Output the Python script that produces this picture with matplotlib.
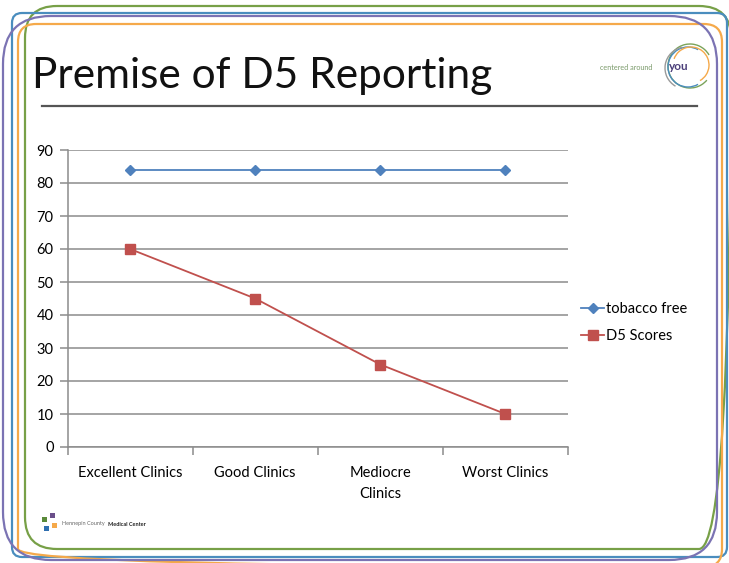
import matplotlib
matplotlib.use("Agg")
import matplotlib.pyplot as plt
from matplotlib.patches import FancyBboxPatch, Arc, Rectangle

categories = ["Excellent Clinics", "Good Clinics", "Mediocre\nClinics", "Worst Clinics"]
tobacco_free = [84, 84, 84, 84]
d5_scores = [60, 45, 25, 10]
y_ticks = [0, 10, 20, 30, 40, 50, 60, 70, 80, 90]

W, H = 729, 563
fig = plt.figure(figsize=(W / 100, H / 100), dpi=100)
fig.patch.set_facecolor("white")

# Background/slide decoration layer in pixel coordinates
bg = fig.add_axes([0, 0, 1, 1], zorder=0)
bg.set_xlim(0, W)
bg.set_ylim(H, 0)
bg.axis("off")

borders = [
    (25, 6, 731, 549, 32, "#77a047"),
    (12, 13, 727, 557, 10, "#4a8dbe"),
    (18, 24, 722, 567, 18, "#f5a94a"),
    (3, 16, 717, 560, 48, "#7b73b3"),
]
for x0, y0, x1, y1, r, c in borders:
    bg.add_patch(FancyBboxPatch((x0, y0), x1 - x0, y1 - y0,
                                boxstyle=f"round,pad=0,rounding_size={r}",
                                fill=False, edgecolor=c, linewidth=1.6))

fam = ["Lato", "DejaVu Sans"]
bg.text(32, 88, "Premise of D5 Reporting", fontsize=30.5, family=fam,
        color="#111111", va="baseline", ha="left")
bg.plot([42, 697], [106, 106], color="#555555", linewidth=1.6)

# "centered around you" logo
for (cx, cy, rr, c, t1, t2) in [
    (690, 66, 22, "#7aa35a", 40, 330),
    (688, 67, 20, "#4a8dbe", 60, 300),
    (691, 65, 18, "#f5a94a", 200, 60),
    (686, 68, 21, "#9a9a9a", 120, 260),
]:
    bg.add_patch(Arc((cx, cy), 2 * rr, 2 * rr, theta1=t1, theta2=t2,
                     edgecolor=c, linewidth=1.0))
bg.text(626, 67, "centered around", fontsize=5.2, family=fam, color="#7a9a6a",
        ha="center", va="center")
bg.text(679, 66, "you", fontsize=8.5, family=fam, weight="bold", color="#4b3f7a",
        ha="center", va="center")

# Hennepin County Medical Center logo
for (x, y, c) in [(42, 517, "#5a8a3a"), (50, 513, "#6a4f8a"), (44, 526, "#2f6fb0"), (52, 523, "#f5a94a")]:
    bg.add_patch(Rectangle((x, y), 5, 5, facecolor=c, edgecolor="none"))
bg.text(62, 524, "Hennepin County", fontsize=4.0, family=fam, color="#666666",
        ha="left", va="center")
bg.text(108, 524, "Medical Center", fontsize=4.0, family=fam, weight="bold", color="#222222",
        ha="left", va="center")

# Chart axes
ax = fig.add_axes([67.5 / W, 1 - 447 / H, (568 - 67.5) / W, (447 - 150) / H], zorder=2)
ax.patch.set_alpha(0)
x = list(range(len(categories)))
ax.plot(x, tobacco_free, color="#4f81bd", marker="D", markersize=5.5,
        linewidth=1.3, label="tobacco free")
ax.plot(x, d5_scores, color="#c0504d", marker="s", markersize=6.5,
        linewidth=1.3, label="D5 Scores", markeredgecolor="#c0504d")
ax.set_xlim(-0.5, len(categories) - 0.5)
ax.set_ylim(0, 90)
ax.set_yticks(y_ticks)
ax.set_yticklabels([str(v) for v in y_ticks], family=fam, fontsize=10.5)
ax.grid(axis="y", color="#8c8c8c", linewidth=1.1)
ax.set_axisbelow(True)
for s in ["top", "right"]:
    ax.spines[s].set_visible(False)
for s in ["left", "bottom"]:
    ax.spines[s].set_color("#8c8c8c")
    ax.spines[s].set_linewidth(1.1)
ax.tick_params(axis="y", length=6, color="#8c8c8c", width=1.1, pad=4)
ax.set_xticks([i - 0.5 for i in range(len(categories) + 1)])
ax.set_xticklabels([])
ax.tick_params(axis="x", length=6, color="#8c8c8c", width=1.1)
ax.set_xticks(x, minor=True)
labels = ax.set_xticklabels(categories, minor=True, family=fam, fontsize=10.5)
for t in labels:
    t.set_linespacing(1.6)
ax.tick_params(axis="x", which="minor", length=0, pad=14)

leg = ax.legend(loc="center left", bbox_to_anchor=(1.0, 0.42), frameon=False,
                prop={"family": fam, "size": 10.5}, handlelength=1.6,
                handletextpad=0.1, labelspacing=0.9, borderaxespad=0.5)

fig.savefig("out.png", dpi=100, facecolor="white")
